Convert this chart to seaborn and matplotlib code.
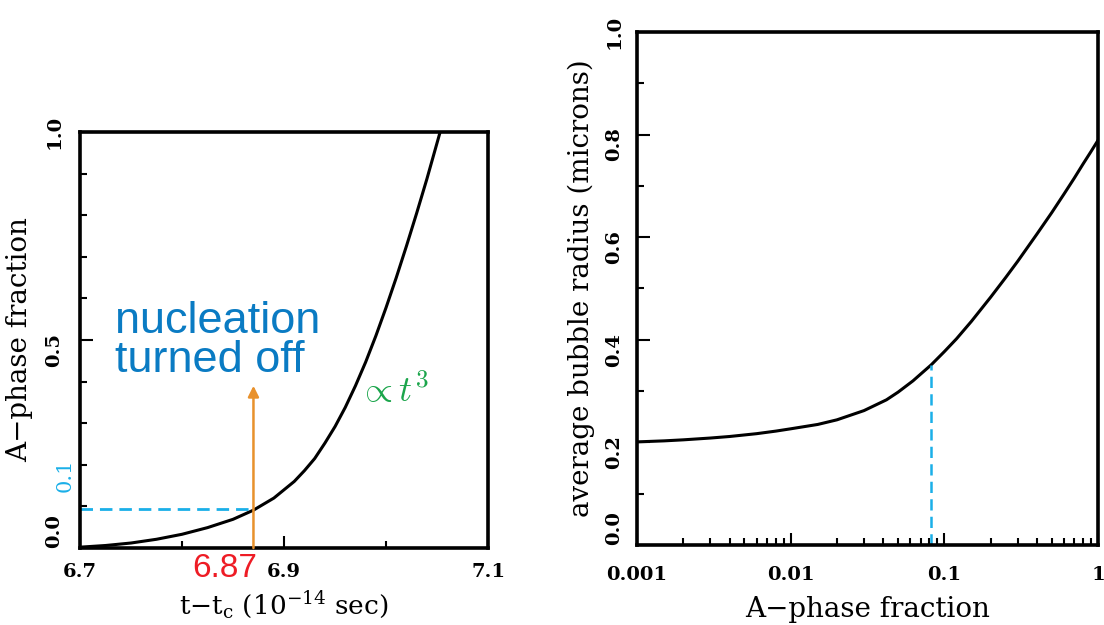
import matplotlib
matplotlib.use("Agg")
import matplotlib.pyplot as plt
from matplotlib.ticker import MultipleLocator, FixedLocator, NullFormatter
import seaborn as sns

sns.set_style("white")
plt.rcParams['font.family'] = ['DejaVu Serif']
plt.rcParams['mathtext.fontset'] = 'dejavuserif'
plt.rcParams['text.color'] = 'black'
plt.rcParams['axes.labelcolor'] = 'black'

# left panel: A-phase fraction vs time
time_vals = [6.700, 6.725, 6.750, 6.775, 6.800, 6.825, 6.850, 6.870, 6.890, 6.910,
             6.920, 6.930, 6.940, 6.950, 6.960, 6.970, 6.980, 6.990, 7.000, 7.010,
             7.020, 7.030, 7.040, 7.053]
frac_vals = [0.002, 0.006, 0.012, 0.021, 0.033, 0.049, 0.069, 0.091, 0.120, 0.160,
             0.186, 0.215, 0.252, 0.292, 0.338, 0.390, 0.447, 0.510, 0.578, 0.650,
             0.726, 0.805, 0.887, 1.000]

# right panel: bubble radius vs A-phase fraction
phase_frac = [0.001, 0.0015, 0.002, 0.003, 0.004, 0.006, 0.008, 0.010, 0.015, 0.020,
              0.030, 0.042, 0.050, 0.0625, 0.070, 0.082, 0.10, 0.12, 0.15, 0.20,
              0.25, 0.30, 0.40, 0.50, 0.60, 0.70, 0.80, 0.90, 1.00]
radius_vals = [0.201, 0.203, 0.205, 0.2085, 0.2115, 0.217, 0.222, 0.2265, 0.235, 0.244,
               0.262, 0.283, 0.298, 0.320, 0.333, 0.351, 0.377, 0.402, 0.436, 0.483,
               0.521, 0.553, 0.606, 0.648, 0.684, 0.715, 0.743, 0.767, 0.789]

# markers
t_off = 6.87
frac_off = 0.093
arrow_top = 0.39
frac_mark = 0.082
radius_mark = 0.351

CYAN = '#1AAFE8'
ORANGE = '#E8912C'
BLUE = '#0A7BC3'
GREEN = '#1BA54B'
RED = '#EE1C25'

fig = plt.figure(figsize=(11.04, 6.25), dpi=100)
ax1 = fig.add_axes([0.0725, 0.1232, 0.3696, 0.6656])
ax2 = fig.add_axes([0.577, 0.128, 0.4176, 0.8208])

sns.lineplot(x=time_vals, y=frac_vals, ax=ax1, color='black', lw=2.2)
sns.lineplot(x=phase_frac, y=radius_vals, ax=ax2, color='black', lw=2.2)

for ax in (ax1, ax2):
    for s in ax.spines.values():
        s.set_linewidth(2.6)
        s.set_color('black')
    ax.tick_params(which='both', direction='in', bottom=True, left=True,
                   top=False, right=False, width=1.5, colors='black', labelsize=14)
    ax.tick_params(which='major', length=9)
    ax.tick_params(which='minor', length=5)
    ax.tick_params(axis='y', labelrotation=90)

# left axes
ax1.set_xlim(6.7, 7.1)
ax1.set_ylim(0, 1)
ax1.set_xticks([6.7, 6.9, 7.1])
ax1.set_xticklabels(['6.7', '6.9', '7.1'])
ax1.xaxis.set_minor_locator(FixedLocator([6.8, 7.0]))
ax1.set_yticks([0.0, 0.5, 1.0])
ax1.set_yticklabels(['0.0', '0.5', '1.0'])
ax1.yaxis.set_minor_locator(MultipleLocator(0.1))
ax1.tick_params(axis='x', pad=11)
ax1.tick_params(axis='y', pad=12)
ax1.set_xlabel('t$-$t$_\\mathregular{c}$ (10$^{-14}$ sec)', fontsize=19)
ax1.set_ylabel('A\u2212phase fraction', fontsize=20)
ax1.xaxis.set_label_coords(0.5, -0.10)
ax1.yaxis.set_label_coords(-0.115, 0.5)

# right axes
ax2.set_xscale('log')
ax2.set_xlim(0.001, 1)
ax2.set_ylim(0, 1)
ax2.set_xticks([0.001, 0.01, 0.1, 1])
ax2.set_xticklabels(['0.001', '0.01', '0.1', '1'])
ax2.xaxis.set_minor_formatter(NullFormatter())
ax2.set_yticks([0.0, 0.2, 0.4, 0.6, 0.8, 1.0])
ax2.set_yticklabels(['0.0', '0.2', '0.4', '0.6', '0.8', '1.0'])
ax2.yaxis.set_minor_locator(MultipleLocator(0.1))
ax2.tick_params(axis='x', pad=15)
ax2.tick_params(axis='y', pad=10)
ax2.set_xlabel('A\u2212phase fraction', fontsize=20)
ax2.set_ylabel('average bubble radius (microns)', fontsize=20)
ax2.xaxis.set_label_coords(0.5, -0.099)
ax2.yaxis.set_label_coords(-0.091, 0.5)

for ax in (ax1, ax2):
    for lbl in ax.get_xticklabels() + ax.get_yticklabels():
        lbl.set_fontweight('bold')
    ylbls = ax.get_yticklabels()
    ylbls[0].set_va('bottom')
    ylbls[-1].set_va('center')

# annotations on the left panel
ax1.plot([6.7, t_off], [frac_off, frac_off], color=CYAN, lw=2, dashes=(4.5, 2.5))
ax1.annotate('', xy=(t_off, arrow_top), xytext=(t_off, 0.0),
             arrowprops=dict(arrowstyle='-|>', color=ORANGE, lw=1.8,
                             mutation_scale=16, shrinkA=0, shrinkB=0))
ax1.text(6.734, 0.518, 'nucleation', color=BLUE, fontsize=32.5,
         family='Liberation Sans', va='baseline', ha='left')
ax1.text(6.734, 0.424, 'turned off', color=BLUE, fontsize=32.5,
         family='Liberation Sans', va='baseline', ha='left')
ax1.text(6.972, 0.351, r'$\propto t^3$', color=GREEN, fontsize=26,
         math_fontfamily='cm', va='baseline', ha='left')
ax1.text(6.842, -0.07, '6.87', color=RED, fontsize=24, family='Liberation Sans',
         ha='center', va='baseline', transform=ax1.get_xaxis_transform())
ax1.text(-0.037, 0.175, '0.1', color=CYAN, fontsize=15, rotation=90,
         ha='center', va='center', transform=ax1.get_yaxis_transform())

# dashed marker on the right panel
ax2.plot([frac_mark, frac_mark], [0, radius_mark], color=CYAN, lw=1.8, dashes=(4.5, 2.5))

fig.savefig('out.png', dpi=100)
